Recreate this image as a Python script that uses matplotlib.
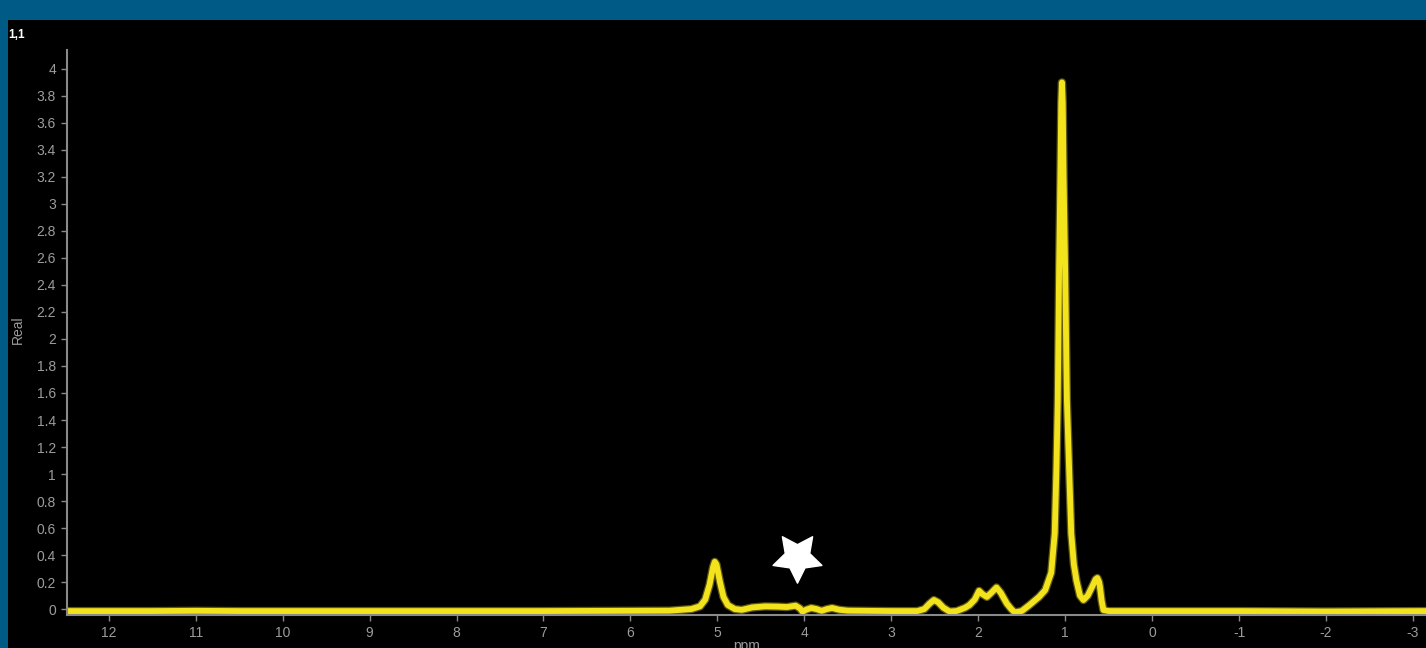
import matplotlib
matplotlib.use("Agg")
import matplotlib.pyplot as plt
import numpy as np
from matplotlib.patches import Rectangle
from matplotlib.path import Path
from matplotlib.ticker import FormatStrFormatter

plt.rcParams['axes.unicode_minus'] = False
plt.rcParams['font.family'] = ['Liberation Sans', 'DejaVu Sans']

# 1H spectrum, real part (ppm, intensity)
ppm = np.array([
    12.48, 11.5, 11.0, 10.5, 9.0, 7.0, 5.55, 5.30, 5.20, 5.14,
    5.09, 5.05, 5.03, 5.01, 4.97, 4.93, 4.88, 4.80, 4.72, 4.60,
    4.45, 4.30, 4.20, 4.10, 4.05, 4.02, 3.98, 3.92, 3.86, 3.80,
    3.74, 3.68, 3.60, 3.50, 3.00, 2.70, 2.62, 2.56, 2.51, 2.46,
    2.40, 2.33, 2.25, 2.15, 2.10, 2.04, 1.99, 1.95, 1.90, 1.85,
    1.79, 1.74, 1.67, 1.62, 1.58, 1.50, 1.41, 1.30, 1.23, 1.16,
    1.12, 1.10, 1.085, 1.07, 1.055, 1.045, 1.037, 1.028, 1.018, 1.00,
    0.98, 0.955, 0.93, 0.90, 0.87, 0.83, 0.79, 0.74, 0.69, 0.65,
    0.63, 0.61, 0.60, 0.58, 0.56, 0.50, 0.0, -1.0, -2.0, -3.15,
])
real = np.array([
    -0.015, -0.015, -0.013, -0.015, -0.015, -0.015, -0.012, 0.0, 0.02, 0.07,
    0.18, 0.31, 0.35, 0.33, 0.20, 0.09, 0.03, 0.0, -0.006, 0.012,
    0.02, 0.018, 0.015, 0.025, 0.005, -0.02, -0.005, 0.008, 0.0, -0.013,
    0.0, 0.008, -0.005, -0.012, -0.015, -0.015, 0.0, 0.04, 0.067, 0.05,
    0.01, -0.018, -0.015, 0.01, 0.03, 0.07, 0.135, 0.11, 0.09, 0.12,
    0.16, 0.12, 0.04, 0.0, -0.025, -0.015, 0.03, 0.09, 0.14, 0.27,
    0.56, 1.05, 1.55, 2.5, 3.2, 3.75, 3.90, 3.75, 3.2, 2.5,
    1.55, 1.05, 0.56, 0.33, 0.21, 0.10, 0.067, 0.10, 0.165, 0.22,
    0.23, 0.20, 0.165, 0.06, -0.007, -0.015, -0.015, -0.015, -0.018, -0.015,
])

x_ticks = np.arange(12, -4, -1)
y_ticks = np.round(np.arange(0, 4.01, 0.2), 1)

star_ppm, star_real = 4.08, 0.387

# five-pointed star marker, pointing down, with a fat body
ang = np.deg2rad(-90 + np.arange(10) * 36)
rad = np.where(np.arange(10) % 2 == 0, 1.0, 0.5)
star_verts = np.column_stack([rad * np.cos(ang), rad * np.sin(ang)])
star_marker = Path(np.vstack([star_verts, star_verts[:1]]), closed=True)

fig = plt.figure(figsize=(14.26, 6.48), dpi=100)
fig.patch.set_facecolor('#005a86')
fig.patches.append(Rectangle((8 / 1426, 0), 1, 1 - 20 / 648, transform=fig.transFigure,
                             facecolor='black', edgecolor='none', zorder=-10))

ax = fig.add_axes([67 / 1426, 1 - 615 / 648, 1 - 67 / 1426, (615 - 50) / 648])
ax.set_facecolor('black')

ax.plot(ppm, real, color='#5e5810', lw=6.0, solid_joinstyle='round', solid_capstyle='round')
ax.plot(ppm, real, color='#f3e31c', lw=4.2, solid_joinstyle='round', solid_capstyle='round')
ax.plot([star_ppm], [star_real], marker=star_marker, ms=37, color='white', mec='white', ls='none')

ax.set_xlim(12.48, -3.15)
ax.set_ylim(-0.044, 4.14)
ax.set_xticks(x_ticks)
ax.set_yticks(y_ticks)
ax.yaxis.set_major_formatter(FormatStrFormatter('%g'))

for side in ('top', 'right'):
    ax.spines[side].set_visible(False)
for side in ('left', 'bottom'):
    ax.spines[side].set_color('#8a8a8a')
    ax.spines[side].set_linewidth(1.5)
ax.tick_params(colors='#8a8a8a', labelcolor='#9c9c9c', labelsize=10, length=4.5, width=1)

fig.text(8 / 1426, 1 - 35 / 648, '1,1', color='white', fontsize=8.5, fontweight='bold',
         va='center', ha='left')
fig.text(18 / 1426, 1 - 330 / 648, 'Real', color='#9c9c9c', fontsize=10, rotation=90,
         va='center', ha='center')
fig.text(747 / 1426, 1 - 639 / 648, 'ppm', color='#9c9c9c', fontsize=10, va='top', ha='center')

fig.savefig('out.png', dpi=100, facecolor=fig.get_facecolor())
